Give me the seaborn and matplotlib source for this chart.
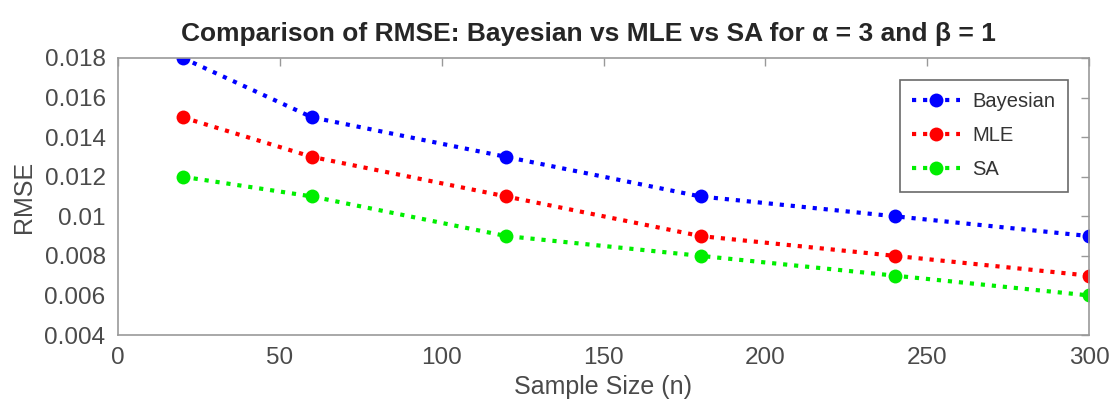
import pandas as pd
import matplotlib
matplotlib.use('Agg')
import matplotlib.pyplot as plt
import seaborn as sns

# data
sample_size = [20, 60, 120, 180, 240, 300]
rmse_bayes = [0.018, 0.015, 0.013, 0.011, 0.010, 0.009]
rmse_mle = [0.015, 0.013, 0.011, 0.009, 0.008, 0.007]
rmse_sa = [0.012, 0.011, 0.009, 0.008, 0.007, 0.006]
methods = ['Bayesian', 'MLE', 'SA']

df = pd.DataFrame({
    'n': sample_size * 3,
    'rmse': rmse_bayes + rmse_mle + rmse_sa,
    'method': [m for m in methods for _ in sample_size],
})

sns.set_style('white')
plt.rcParams['font.family'] = ['Liberation Sans', 'DejaVu Sans']

fig = plt.figure(figsize=(11.1, 4.12), dpi=100)
# axes box spans x 118..1089, y 58..335 px
ax = fig.add_axes([118 / 1110, 1 - 335 / 412, 971 / 1110, 277 / 412])

palette = {'Bayesian': '#0000ff', 'MLE': '#ff0000', 'SA': '#00ee00'}
sns.lineplot(data=df, x='n', y='rmse', hue='method', palette=palette,
             marker='o', markersize=10, markeredgewidth=0, linewidth=3,
             linestyle=':', ax=ax)

ax.set_xlim(0, 300)
ax.set_ylim(0.004, 0.018)
ax.set_xticks(range(0, 301, 50))
ax.set_yticks([0.004, 0.006, 0.008, 0.010, 0.012, 0.014, 0.016, 0.018])
ax.set_yticklabels(['0.004', '0.006', '0.008', '0.01', '0.012', '0.014', '0.016', '0.018'])
ax.tick_params(direction='in', length=6, width=1, colors='#999999',
               labelcolor='#4a4a4a', labelsize=17.5, top=True, right=True, pad=9)
for s in ax.spines.values():
    s.set_color('#999999')
    s.set_linewidth(1.2)

ax.set_xlabel('Sample Size (n)', fontsize=18, color='#4a4a4a', labelpad=4)
ax.set_ylabel('RMSE', fontsize=18, color='#4a4a4a', labelpad=6)
ax.set_title('Comparison of RMSE: Bayesian vs MLE vs SA for α = 3 and β = 1',
             fontsize=19, fontweight='bold', pad=12, x=0.485)

leg = ax.legend(loc='upper right', bbox_to_anchor=(0.978, 0.92), borderaxespad=0,
                fontsize=14.5, frameon=True, fancybox=False, edgecolor='#444444',
                handlelength=2.4, handletextpad=0.6, borderpad=0.6, labelspacing=0.75)
leg.get_frame().set_linewidth(1.2)
for t in leg.get_texts():
    t.set_color('#333333')

fig.savefig('out.png', dpi=100)
